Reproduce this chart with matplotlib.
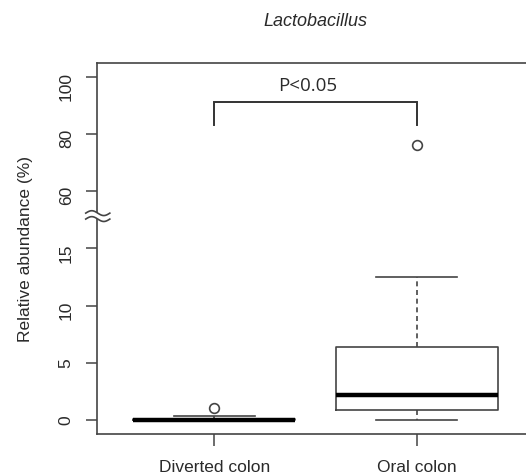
import numpy as np
import matplotlib
matplotlib.use("Agg")
import matplotlib.pyplot as plt

# ---- data ----
groups = ["Diverted colon", "Oral colon"]
q1 = [0.0, 0.9]
median = [0.0, 2.2]
q3 = [0.05, 6.4]
whisker_lo = [0.0, 0.0]
whisker_hi = [0.32, 12.5]
outliers = [[1.05], [76.0]]
yticks = [0, 5, 10, 15, 60, 80, 100]
title = "Lactobacillus"
ylabel = "Relative abundance (%)"
p_text = "P<0.05"

plt.rcParams['font.family'] = ['Liberation Sans', 'DejaVu Sans']

LINE = '#444444'
TXT = '#2a2a2a'

# broken y axis mapping (0-15 lower segment, 60-100 upper segment)
def fwd(y):
    y = np.asarray(y, float)
    return np.where(y <= 17.5, y / 5.0,
                    np.where(y >= 54, 4 + (y - 60) / 20.0,
                             3.5 + (y - 17.5) * (0.2 / 36.5)))

def inv(t):
    t = np.asarray(t, float)
    return np.where(t <= 3.5, t * 5.0,
                    np.where(t >= 3.7, 60 + (t - 4) * 20.0,
                             17.5 + (t - 3.5) * (36.5 / 0.2)))

fig = plt.figure(figsize=(5.26, 4.77), dpi=100)
ax = fig.add_axes([0.1838, 0.0887, 1.0158 - 0.1838, 0.8658 - 0.0887])
ax.set_yscale('function', functions=(fwd, inv))

stats = []
for i, g in enumerate(groups):
    stats.append(dict(label=g, med=median[i], q1=q1[i], q3=q3[i],
                      whislo=whisker_lo[i], whishi=whisker_hi[i],
                      fliers=outliers[i]))

ax.bxp(stats, positions=[1, 2], widths=0.8, showfliers=True,
       boxprops=dict(color=LINE, linewidth=1.2),
       medianprops=dict(color='black', linewidth=3.2, solid_capstyle='butt'),
       whiskerprops=dict(color=LINE, linewidth=1.2, linestyle=(0, (3, 2.2))),
       capprops=dict(color=LINE, linewidth=1.2),
       flierprops=dict(marker='o', markersize=7, markerfacecolor='none',
                       markeredgecolor=LINE, markeredgewidth=1.2))

ax.set_xlim(0.42, 2.58)
ax.set_ylim(float(inv(-0.24)), float(inv(6.24)))
ax.set_yticks(yticks)
ax.set_yticklabels([str(v) for v in yticks])
ax.set_xticks([1, 2])
ax.set_xticklabels(groups)
ax.yaxis.set_minor_locator(matplotlib.ticker.NullLocator())

ax.tick_params(axis='y', direction='out', length=8, width=1.1, color=LINE,
               labelsize=12.5, labelrotation=90, pad=8.5, labelcolor=TXT)
ax.tick_params(axis='x', direction='out', length=8.5, width=1.1, color=LINE,
               labelsize=12.5, pad=10, labelcolor=TXT)
for s in ['top', 'bottom', 'left']:
    ax.spines[s].set_color(LINE)
    ax.spines[s].set_linewidth(1.2)
ax.spines['right'].set_visible(False)

ax.set_ylabel(ylabel, fontsize=12.5, color=TXT, va='center')
ax.yaxis.set_label_coords(-0.162, 0.5)

# axis break symbol on the left spine
xs = np.linspace(-0.025, 0.03, 40)
yc = 0.587
amp = 0.0065
wave = amp * np.sin((xs - xs[0]) / (xs[-1] - xs[0]) * 2 * np.pi)
ax.fill_between(xs, yc - 0.008 + wave, yc + 0.008 + wave, color='white',
                transform=ax.transAxes, clip_on=False, zorder=5, linewidth=0)
for off in (-0.008, 0.008):
    ax.plot(xs, yc + off + wave, color=LINE, lw=1.2, transform=ax.transAxes,
            clip_on=False, zorder=6)

# significance bracket
ax.plot([1, 1, 2, 2], [83, 91, 91, 83], color='#333333', lw=1.4,
        solid_joinstyle='miter')
ax.text(1.46, 97, p_text, ha='center', va='center', fontsize=13.5,
        family=['Open Sans', 'DejaVu Sans'], color=TXT)

fig.text(315 / 526, 1 - 21 / 477, title, ha='center', va='center',
         fontsize=13, style='italic', color=TXT)

fig.savefig('out.png', dpi=100)
